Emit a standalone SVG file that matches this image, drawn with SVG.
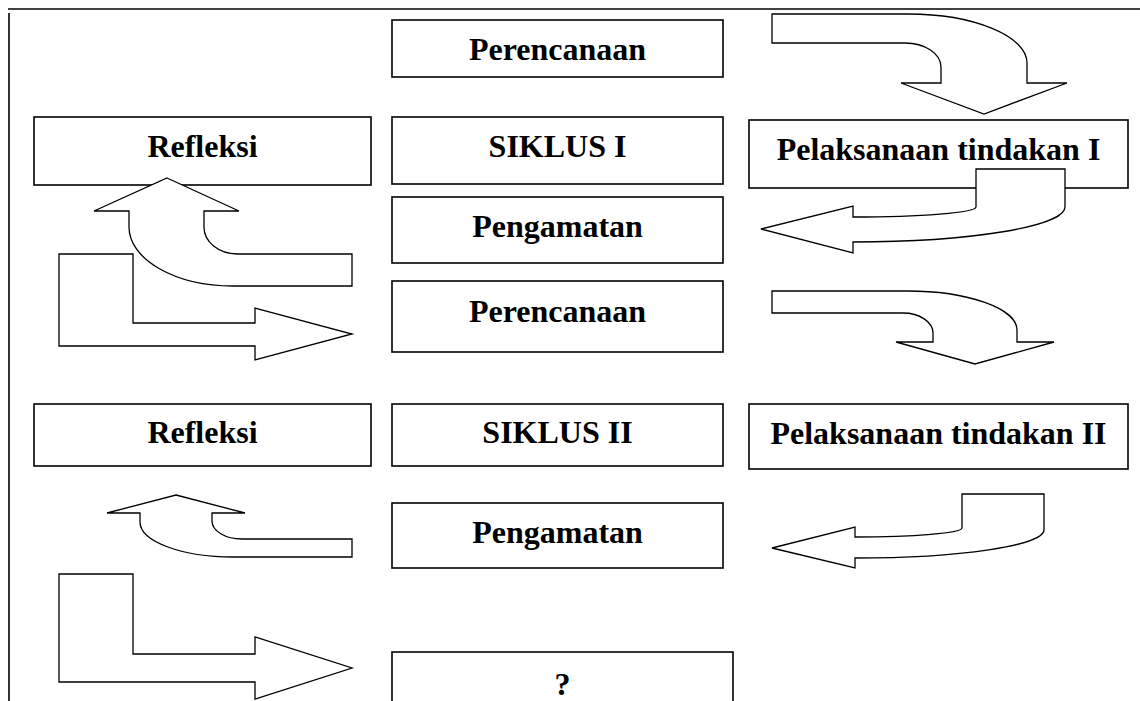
<svg xmlns="http://www.w3.org/2000/svg" width="1140" height="701" viewBox="0 0 1140 701">
<style>
.box{fill:#fff;stroke:#000;stroke-width:1.6}
.lbl{font-family:"Liberation Serif","Times New Roman",serif;font-weight:bold;font-size:32px;fill:#000;text-anchor:middle}
.arr{fill:#fff;stroke:#000;stroke-width:1.3;stroke-linejoin:miter}
.frame{stroke:#000;stroke-width:1.6}
</style>
<rect width="1140" height="701" fill="#fff"/>
<g id="frame">
<line class="frame" x1="8" y1="9" x2="1140" y2="9"/>
<line class="frame" x1="9" y1="13" x2="9" y2="701"/>
</g>
<g id="n-perencanaan1"><rect class="box" x="392" y="20" width="331" height="57"/><text class="lbl" x="557.5" y="60">Perencanaan</text></g>
<g id="n-refleksi1"><rect class="box" x="34" y="117" width="337" height="68"/><text class="lbl" x="202.5" y="157">Refleksi</text></g>
<g id="n-siklus1"><rect class="box" x="392" y="117" width="331" height="67"/><text class="lbl" x="557.5" y="157">SIKLUS I</text></g>
<g id="n-pelaksanaan1"><rect class="box" x="749" y="120" width="379" height="68"/><text class="lbl" x="938.5" y="160">Pelaksanaan tindakan I</text></g>
<g id="n-pengamatan1"><rect class="box" x="392" y="197" width="331" height="66"/><text class="lbl" x="557.5" y="237">Pengamatan</text></g>
<g id="n-perencanaan2"><rect class="box" x="392" y="281" width="331" height="71"/><text class="lbl" x="557.5" y="322">Perencanaan</text></g>
<g id="n-refleksi2"><rect class="box" x="34" y="404" width="337" height="62"/><text class="lbl" x="202.5" y="443">Refleksi</text></g>
<g id="n-siklus2"><rect class="box" x="392" y="404" width="331" height="62"/><text class="lbl" x="557.5" y="443">SIKLUS II</text></g>
<g id="n-pelaksanaan2"><rect class="box" x="749" y="404" width="379" height="65"/><text class="lbl" x="938.5" y="444">Pelaksanaan tindakan II</text></g>
<g id="n-pengamatan2"><rect class="box" x="392" y="503" width="331" height="65"/><text class="lbl" x="557.5" y="543">Pengamatan</text></g>
<g id="n-question"><rect class="box" x="392" y="652" width="341" height="60"/><text class="lbl" x="562.5" y="695">?</text></g>
<g id="connectors">
<path class="arr" d="M772,14 L908,14 A119,49 0 0 1 1027,63 L1027,83 L1067,83 L984,114 L901,83 L941,83 L941,67 A36,24 0 0 0 905,43 L772,43 Z"/>
<path class="arr" d="M976,169 L1065,169 L1065,207 A212,35 0 0 1 853,242 L853,253 L761,229 L853,206 L853,217 A123,10 0 0 0 976,207 Z"/>
<path class="arr" d="M167,178 L239,211 L204,211 L204,227 A33,27 0 0 0 237,254 L352,254 L352,286 L233,286 A104,59 0 0 1 129,227 L129,211 L94,211 Z"/>
<path class="arr" d="M59,254 L133,254 L133,323 L255,323 L255,308 L352,334 L255,360 L255,346 L59,346 Z"/>
<path class="arr" d="M772,291 L907,291 A110,39 0 0 1 1017,330 L1017,342 L1054,342 L975,364 L896,342 L933,342 L933,333 A30,20 0 0 0 903,313 L772,313 Z"/>
<path class="arr" d="M962,494 L1044,494 L1044,530 A189,28 0 0 1 855,558 L855,568 L772,548 L855,527 L855,537 A107,9 0 0 0 962,528 Z"/>
<path class="arr" d="M176,495 L245,513 L212,513 L212,521 A30,18 0 0 0 242,539 L352,539 L352,557 L233,557 A93,35 0 0 1 140,522 L140,513 L107,513 Z"/>
<path class="arr" d="M59,574 L133,574 L133,654 L255,654 L255,637 L352,668 L255,699 L255,682 L59,682 Z"/>
</g>
</svg>
